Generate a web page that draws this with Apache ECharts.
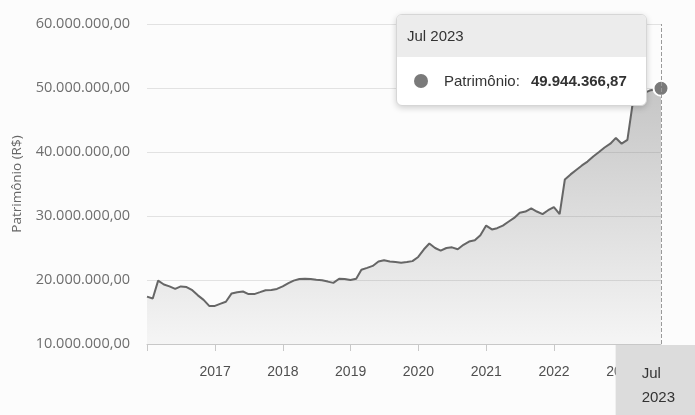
<!DOCTYPE html>
<html>
<head>
<meta charset="utf-8">
<script src="https://cdn.jsdelivr.net/npm/echarts@6/dist/echarts.min.js"></script>
<style>
html,body{margin:0;padding:0;background:#fcfcfc;}
#chart{width:695px;height:415px;}
</style>
</head>
<body>
<div id="chart"></div>
<script>
// Months (end of month) of each data point
const months = [
 '2015-12',
 '2016-01','2016-02','2016-03','2016-04','2016-05','2016-06','2016-07','2016-08','2016-09','2016-10','2016-11','2016-12',
 '2017-01','2017-02','2017-03','2017-04','2017-05','2017-06','2017-07','2017-08','2017-09','2017-10','2017-11','2017-12',
 '2018-01','2018-02','2018-03','2018-04','2018-05','2018-06','2018-07','2018-08','2018-09','2018-10','2018-11','2018-12',
 '2019-01','2019-02','2019-03','2019-04','2019-05','2019-06','2019-07','2019-08','2019-09','2019-10','2019-11','2019-12',
 '2020-01','2020-02','2020-03','2020-04','2020-05','2020-06','2020-07','2020-08','2020-09','2020-10','2020-11','2020-12',
 '2021-01','2021-02','2021-03','2021-04','2021-05','2021-06','2021-07','2021-08','2021-09','2021-10','2021-11','2021-12',
 '2022-01','2022-02','2022-03','2022-04','2022-05','2022-06','2022-07','2022-08','2022-09','2022-10','2022-11','2022-12',
 '2023-01','2023-02','2023-03','2023-04','2023-05','2023-06','2023-07'
];
// Patrimônio (R$)
const patrimonio = [
 17400000,
 17100000,19900000,19300000,19000000,18600000,19000000,18900000,18400000,17600000,16900000,15950000,15950000,
 16300000,16600000,17900000,18100000,18200000,17800000,17800000,18100000,18400000,18450000,18600000,19000000,
 19500000,19900000,20150000,20200000,20150000,20050000,19950000,19750000,19550000,20200000,20150000,20000000,
 20200000,21600000,21900000,22200000,22900000,23100000,22900000,22800000,22700000,22800000,22950000,23600000,
 24800000,25700000,25000000,24600000,25000000,25100000,24800000,25500000,26000000,26200000,27000000,28500000,
 27900000,28100000,28500000,29100000,29700000,30500000,30700000,31200000,30700000,30300000,30900000,31400000,
 30300000,35700000,36500000,37200000,37900000,38500000,39300000,40000000,40700000,41300000,42200000,41300000,
 41900000,47500000,48800000,49200000,49600000,49800000,49944366.87
];
const yTicks = [10000000,20000000,30000000,40000000,50000000,60000000];
const monthNames = ['Jan','Fev','Mar','Abr','Mai','Jun','Jul','Ago','Set','Out','Nov','Dez'];
const seriesName = 'Patrimônio';
const yAxisTitle = 'Patrimônio (R$)';

function endOfMonth(s){ const p=s.split('-'); return new Date(+p[0], +p[1], 0).getTime(); }
function fmtBR(v){
  const neg = v<0; v=Math.abs(v);
  const parts = v.toFixed(2).split('.');
  const ip = parts[0].replace(/\B(?=(\d{3})+(?!\d))/g,'.');
  return (neg?'-':'')+ip+','+parts[1];
}
function monthLabel(ts, sep){ const d=new Date(ts); return monthNames[d.getMonth()]+sep+d.getFullYear(); }

const times = months.map(endOfMonth);
const data = times.map((t,i)=>[t, patrimonio[i]]);
const last = data.length-1;
const DAY = 24*3600*1000;

const chart = echarts.init(document.getElementById('chart'), null, {renderer:'canvas'});
chart.setOption({
  animation:false,
  backgroundColor:'#fcfcfc',
  grid:{left:147,right:34,top:24,bottom:71,outerBoundsMode:'none',containLabel:false},
  xAxis:{
    type:'time',
    min:times[0], max:times[last],
    minInterval:365*DAY, maxInterval:366*DAY,
    axisLine:{show:true,lineStyle:{color:'#c8c8c8',width:1}},
    axisTick:{show:true,length:7,lineStyle:{color:'#c8c8c8'}},
    splitLine:{show:false},
    axisLabel:{
      margin:21,color:'#4f4f4f',fontSize:14,fontFamily:'Liberation Sans, Arial, sans-serif',
      hideOverlap:false,
      // the first year tick sits on the plot edge; its label is clipped away in the reference
      formatter:function(v){ const d=new Date(v); return (v-times[0]<40*DAY)?'':String(d.getFullYear()); }
    }
  },
  yAxis:{
    type:'value', min:yTicks[0], max:yTicks[yTicks.length-1], interval:yTicks[1]-yTicks[0],
    name:yAxisTitle, nameLocation:'middle', nameGap:123,
    nameTextStyle:{color:'#666',fontSize:13.5,fontFamily:'Open Sans, sans-serif'},
    axisLine:{show:false}, axisTick:{show:false},
    splitLine:{lineStyle:{color:'#e2e2e2',width:1}},
    axisLabel:{margin:17,color:'#6e6e6e',fontSize:14.5,fontFamily:'Open Sans, sans-serif',formatter:function(v){return fmtBR(v);}}
  },
  tooltip:{
    trigger:'axis', triggerOn:'none', alwaysShowContent:true, transitionDuration:0,
    position:[396,14], padding:0, borderWidth:1, borderColor:'#d6d6d6', backgroundColor:'#ffffff',
    extraCssText:'border-radius:6px;overflow:hidden;box-shadow:0 2px 6px rgba(0,0,0,0.18);width:249px;',
    axisPointer:{
      type:'line', axis:'x',
      lineStyle:{color:'#9a9a9a',type:'dashed',width:1},
      label:{show:true, margin:1, color:'#333', fontSize:15, lineHeight:24,
        fontFamily:'Liberation Sans, Arial, sans-serif',
        backgroundColor:'#dcdcdc', padding:[17,20,20,26], borderRadius:0, shadowBlur:0,
        formatter:function(p){ return monthLabel(p.value,'\n'); }}
    },
    formatter:function(params){
      const p = params[0];
      return '<div style="font-family:Liberation Sans,Arial,sans-serif;font-size:15px;color:#333;">'+
        '<div style="background:#ececec;padding:0 10px;height:42px;line-height:42px;">'+monthLabel(p.value[0],' ')+'</div>'+
        '<div style="padding:0 10px;height:48px;line-height:48px;white-space:nowrap;">'+
        '<span style="display:inline-block;width:14px;height:14px;border-radius:7px;background:#7a7a7a;vertical-align:-2px;margin-left:7px;margin-right:16px;"></span>'+
        '<span>'+p.seriesName+':</span><span style="font-weight:bold;margin-left:11px;">'+fmtBR(p.value[1])+'</span></div></div>';
    }
  },
  series:[{
    name:seriesName, type:'line', data:data,
    showSymbol:true, showAllSymbol:true, symbol:'circle',
    symbolSize:function(v,p){ return p.dataIndex===last?15:0; },
    itemStyle:{color:'#7a7a7a',borderColor:'#ffffff',borderWidth:2},
    lineStyle:{color:'#666666',width:2},
    emphasis:{disabled:true,scale:false},
    areaStyle:{color:new echarts.graphic.LinearGradient(0,0,0,1,[
      {offset:0,color:'rgba(110,110,110,0.55)'},
      {offset:1,color:'rgba(110,110,110,0.07)'}
    ])},
    z:2
  }]
});
chart.dispatchAction({type:'showTip', seriesIndex:0, dataIndex:last});
</script>
</body>
</html>
